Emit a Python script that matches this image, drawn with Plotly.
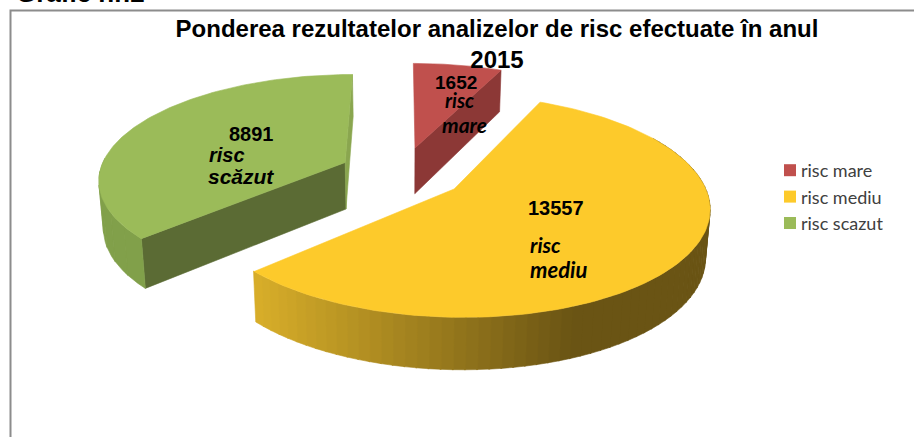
import numpy as np
import plotly.graph_objects as go

categories = ["risc mare", "risc mediu", "risc scazut"]
values = [1652, 13557, 8891]
slice_labels = [["risc", "mare"], ["risc", "mediu"], ["risc", "scăzut"]]
top_colors = ["#C0504D", "#FDCA2B", "#9BBB59"]
title_text = "Ponderea rezultatelor analizelor de risc efectuate în anul<br>2015"

W, H = 914, 437
CX, CY = 402, 173        # projected pie centre
A, B, K = 246, 104, 0.149  # ellipse radii, perspective
EXPLODE = 0.256
DEPTH = 47
SHRINK = 0.985
rad = np.deg2rad


def project(u, v, z=0.0):
    d = 1 + K * v
    x = A * u / d
    y = -B * v / d
    if z:
        x = x * SHRINK
        y = y + z * DEPTH * (1 - 0.1 * v)
    return CX + x, CY + y


total = sum(values)
edges = np.cumsum([0] + values) / total * 360.0


def offset(i):
    mid = rad((edges[i] + edges[i + 1]) / 2)
    return EXPLODE * np.sin(mid), EXPLODE * np.cos(mid)


def rim(i, a0, a1, n=80):
    th = rad(np.linspace(a0, a1, n))
    ou, ov = offset(i)
    return ou + np.sin(th), ov + np.cos(th)


def lerp(c0, c1, t):
    t = min(max(t, 0), 1)
    return "rgb(%d,%d,%d)" % tuple(c0[k] + (c1[k] - c0[k]) * t for k in range(3))


fig = go.Figure()


def poly(xs, ys, color):
    fig.add_trace(go.Scatter(
        x=list(xs), y=list(ys), mode="lines", fill="toself", fillcolor=color,
        line=dict(color=color, width=0.6), showlegend=False, hoverinfo="skip",
    ))


def radial_wall(i, angle, color):
    ou, ov = offset(i)
    u = np.array([ou, ou + np.sin(rad(angle))])
    v = np.array([ov, ov + np.cos(rad(angle))])
    x0, y0 = project(u, v)
    x1, y1 = project(u, v, 1)
    poly(np.r_[x0, x1[::-1], x0[0]], np.r_[y0, y1[::-1], y0[0]], color)


def outer_wall(i, a0, a1, colorfn, steps):
    ang = np.linspace(a0, a1, steps + 1)
    for s in range(steps):
        u, v = rim(i, ang[s], ang[s + 1] + 0.25, 6)
        x0, y0 = project(u, v)
        x1, y1 = project(u, v, 1)
        poly(np.r_[x0, x1[::-1], x0[0]], np.r_[y0, y1[::-1], y0[0]], colorfn(x0.mean()))


# walls
radial_wall(0, edges[1], "#8C3836")
radial_wall(2, edges[2], "#5B6B34")
radial_wall(2, edges[3], "#8AA64F")
outer_wall(2, edges[2], edges[2] + 45, lambda x: lerp((129, 160, 74), (131, 162, 75), 0), 6)
outer_wall(1, 60, edges[2], lambda x: lerp((106, 84, 20), (217, 175, 42), (575 - x) / 322), 70)

# top faces
for i, name in enumerate(categories):
    u, v = rim(i, edges[i], edges[i + 1], 140)
    ou, ov = offset(i)
    x, y = project(np.r_[ou, u, ou], np.r_[ov, v, ov])
    poly(x, y, top_colors[i])

# legend entries with square keys
for i, name in enumerate(categories):
    fig.add_trace(go.Scatter(x=[None], y=[None], mode="markers", name=name,
                             marker=dict(symbol="square", size=12, color=top_colors[i]),
                             showlegend=True, hoverinfo="skip"))

annotations = []


def note(x, y, text, size, font="Liberation Sans", italic=False):
    t = "<b>%s</b>" % text
    if italic:
        t = "<i>%s</i>" % t
    annotations.append(dict(x=x, y=y, xref="x", yref="y", text=t, showarrow=False,
                            xanchor="center", yanchor="middle",
                            font=dict(family=font, size=size, color="#000000")))


note(456, 82, str(values[0]), 19)
note(459, 100, slice_labels[0][0], 20, "Lato", True)
note(464, 124, slice_labels[0][1], 21, "Lato", True)
note(556, 208, str(values[1]), 20)
note(545, 244, slice_labels[1][0], 21, "Lato", True)
note(558, 269, slice_labels[1][1], 22, "Lato", True)
note(251, 134, str(values[2]), 20)
note(227, 155, slice_labels[2][0], 20, "Liberation Sans", True)
note(241, 176, slice_labels[2][1], 21, "Liberation Sans", True)
annotations.append(dict(x=80 / W, y=1 + 7 / H, xref="paper", yref="paper", text="<b>Grafic nr.2</b>",
                        showarrow=False, xanchor="center", yanchor="middle",
                        font=dict(family="Liberation Sans", size=26, color="#000000")))

fig.update_layout(
    width=W, height=H, margin=dict(l=0, r=0, t=0, b=0),
    paper_bgcolor="#FFFFFF", plot_bgcolor="#FFFFFF",
    xaxis=dict(range=[0, W], visible=False, fixedrange=True),
    yaxis=dict(range=[H, 0], visible=False, fixedrange=True),
    title=dict(text="<b>%s</b>" % title_text, x=497 / W, xanchor="center",
               y=1 - 36.5 / H, yanchor="middle",
               font=dict(family="Liberation Sans", size=24, color="#000000")),
    legend=dict(x=761 / W, y=1 - 152 / H, xanchor="left", yanchor="top",
                font=dict(family="Lato", size=18, color="#404040"),
                bgcolor="rgba(0,0,0,0)"),
    annotations=annotations,
    shapes=[dict(type="path", xref="x", yref="y",
                 path=f"M 10.5 {H} L 10.5 10.5 L {W} 10.5",
                 line=dict(color="#8C8C8C", width=2))],
)

fig.write_html(
    "out.html", config=dict(displayModeBar=False),
    post_script=("document.body.style.margin='0';document.body.style.overflow='hidden';"
                 "setTimeout(function(){document.querySelectorAll('.legendpoints')"
                 ".forEach(function(p){p.setAttribute('transform','translate(9,0)');});},30);"),
)
